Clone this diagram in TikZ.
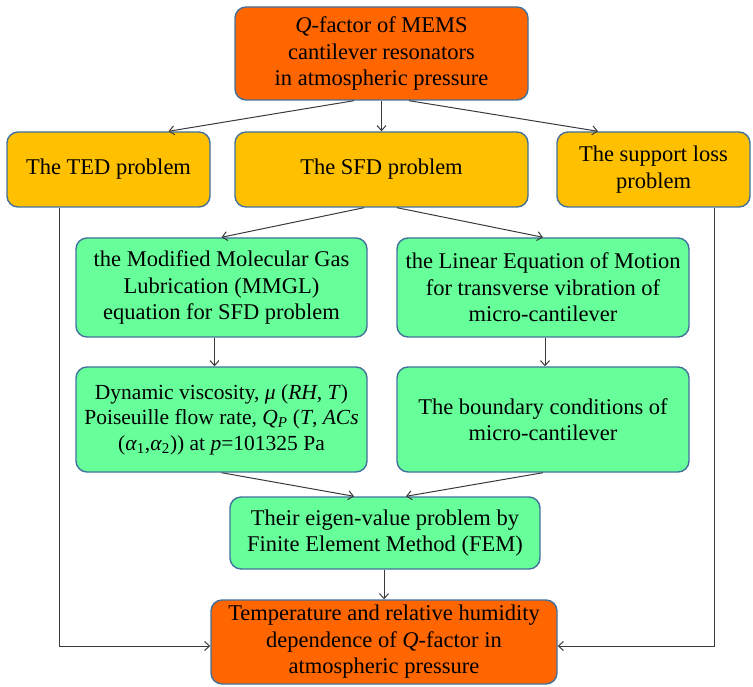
\documentclass[tikz,border=0pt]{standalone}
\usepackage{fontspec}
\setmainfont{Liberation Serif}
\usepackage{tikz}
\usetikzlibrary{arrows.meta}

\definecolor{boxorange}{HTML}{FF6600}
\definecolor{boxgold}{HTML}{FFC000}
\definecolor{boxgreen}{HTML}{66FF99}
\definecolor{boxedge}{HTML}{41719C}
\definecolor{lineclr}{HTML}{3A3A3A}

\begin{document}
\begin{tikzpicture}[x=1pt,y=-1pt,
    box/.style={draw=boxedge,line width=1.4pt,rounded corners=11pt,align=center,
        inner sep=2pt,font=\fontsize{22.5}{26.5}\selectfont},
    mainbox/.style={box,fill=boxorange},
    probbox/.style={box,fill=boxgold},
    stagebox/.style={box,fill=boxgreen},
    link/.style={-{Straight Barb[length=5pt,width=9pt]},draw=lineclr,line width=1pt}]
\useasboundingbox (0,0) rectangle (753,687);
% boxes, from the top down
\node[mainbox,minimum width=293pt,minimum height=93pt] (top) at (381.5,53.5)
    {\textit{Q}-factor of MEMS\\cantilever resonators\\in atmospheric pressure};
\node[probbox,minimum width=203pt,minimum height=75pt] (ted) at (108.5,169.5) {The TED problem};
\node[probbox,minimum width=293pt,minimum height=75pt] (sfd) at (381.5,169.5) {The SFD problem};
\node[probbox,minimum width=193pt,minimum height=75pt] (sup) at (653.5,169.5) {The support loss\\problem};
\node[stagebox,minimum width=291pt,minimum height=99pt] (mmgl) at (221.5,287.5)
    {the Modified Molecular Gas\\Lubrication (MMGL)\\equation for SFD problem};
\node[stagebox,minimum width=292pt,minimum height=99pt] (eom) at (543,287.5)
    {the Linear Equation of Motion\\for transverse vibration of\\micro-cantilever};
\node[stagebox,minimum width=291pt,minimum height=105pt,font=\fontsize{21.5}{25.5}\selectfont] (visc) at (221.5,419.5)
    {Dynamic viscosity, \textit{μ} (\textit{RH}, \textit{T})\\
     Poiseuille flow rate, \textit{Q}\textsubscript{\textit{P}} (\textit{T}, \textit{ACs}\\
     (\textit{α}\textsubscript{1},\textit{α}\textsubscript{2})) at \textit{p}=101325 Pa};
\node[stagebox,minimum width=292pt,minimum height=105pt] (bc) at (543,419.5)
    {The boundary conditions of\\micro-cantilever};
\node[stagebox,minimum width=310pt,minimum height=72pt] (fem) at (385,533)
    {Their eigen-value problem by\\Finite Element Method (FEM)};
\node[mainbox,minimum width=346pt,minimum height=84pt] (res) at (384,642)
    {Temperature and relative humidity\\dependence of \textit{Q}-factor in\\atmospheric pressure};
% connectors
\draw[link] ([xshift=-27.5pt]top.south) -- ([xshift=60pt]ted.north);
\draw[link] (top.south) -- (sfd.north);
\draw[link] ([xshift=27.5pt]top.south) -- ([xshift=-55.5pt]sup.north);
\draw[link] ([xshift=-17.5pt]sfd.south) -- (mmgl.north);
\draw[link] ([xshift=15.5pt]sfd.south) -- (eom.north);
\draw[link] ([xshift=-7pt]mmgl.south) -- ([xshift=-7pt]visc.north);
\draw[link] ([xshift=2pt]eom.south) -- ([xshift=2pt]bc.north);
\draw[link] (visc.south) -- ([xshift=-31pt]fem.north);
\draw[link] (bc.south) -- ([xshift=21pt]fem.north);
\draw[link] ([xshift=-1pt]fem.south) -- ([xshift=-1pt]fem.south |- res.north);
\draw[link] ([xshift=-49.5pt]ted.south) |- ([yshift=-4pt]res.west);
\draw[link] ([xshift=60.5pt]sup.south) |- ([yshift=-4pt]res.east);
\end{tikzpicture}
\end{document}
